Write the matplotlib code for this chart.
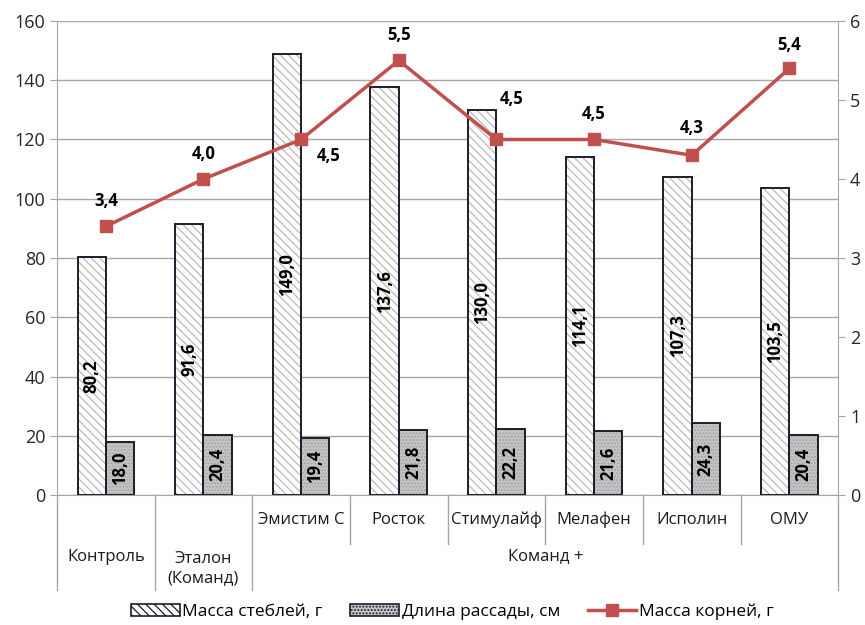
import numpy as np
import matplotlib
matplotlib.use("Agg")
import matplotlib.pyplot as plt
from matplotlib.patches import Patch
from matplotlib.lines import Line2D
from matplotlib.transforms import blended_transform_factory

plt.rcParams['font.family'] = ['Open Sans', 'DejaVu Sans']
plt.rcParams['hatch.linewidth'] = 0.9

categories = ['Контроль', 'Эталон\n(Команд)', 'Эмистим С', 'Росток',
              'Стимулайф', 'Мелафен', 'Исполин', 'ОМУ']
group_label = 'Команд +'
stems = [80.2, 91.6, 149.0, 137.6, 130.0, 114.1, 107.3, 103.5]
seedlings = [18.0, 20.4, 19.4, 21.8, 22.2, 21.6, 24.3, 20.4]
roots = [3.4, 4.0, 4.5, 5.5, 4.5, 4.5, 4.3, 5.4]

series_names = ['Масса стеблей, г', 'Длина рассады, см', 'Масса корней, г']

def fmt(v):
    return f"{v:.1f}".replace('.', ',')

fig = plt.figure(figsize=(8.65, 6.25), dpi=100)
ax = fig.add_axes([0.0659, 0.208, 0.9031, 0.7584])
ax2 = ax.twinx()

x = np.arange(len(categories))
w = 0.29
grid_c = '#a6a6a6'
edge_c = '#1c1c2c'

# stems: hatch in gray, then dark outline on top
ax.bar(x - w / 2, stems, w, color='white', edgecolor='#bababa',
       hatch='\\\\\\\\', linewidth=0, zorder=2)
ax.bar(x - w / 2, stems, w, color='none', edgecolor=edge_c, linewidth=1.4, zorder=3)
ax.bar(x + w / 2, seedlings, w, color='#c4c4c4', edgecolor='#a4a4a4',
       hatch='.....', linewidth=0, zorder=2)
ax.bar(x + w / 2, seedlings, w, color='none', edgecolor=edge_c, linewidth=1.4, zorder=3)

for i in range(len(x)):
    ax.text(x[i] - w / 2, stems[i] / 2, fmt(stems[i]), rotation=90, ha='center',
            va='center', fontsize=12, fontweight='bold', zorder=4)
    ax.text(x[i] + w / 2, seedlings[i] / 2, fmt(seedlings[i]), rotation=90, ha='center',
            va='center', fontsize=12, fontweight='bold', zorder=4)

ax.set_xlim(-0.5, len(categories) - 0.5)
ax.set_ylim(0, 160)
ax.set_yticks(np.arange(0, 161, 20))
ax.yaxis.grid(True, color=grid_c, linewidth=1)
ax.set_axisbelow(True)
ax.set_xticks([])
for s in ['top', 'right']:
    ax.spines[s].set_visible(False)
for s in ['left', 'bottom']:
    ax.spines[s].set_color(grid_c)
ax.tick_params(axis='y', colors=grid_c, labelcolor='#262626', labelsize=13,
               length=5, direction='out')

ax2.plot(x, roots, color='#c0504d', linewidth=2.5, marker='s', markersize=9, zorder=5)
ax2.set_ylim(0, 6)
ax2.set_yticks(range(7))
for s in ['top', 'left', 'bottom']:
    ax2.spines[s].set_visible(False)
ax2.spines['right'].set_color(grid_c)
ax2.tick_params(axis='y', colors=grid_c, labelcolor='#262626', labelsize=13,
                length=5, direction='out')

offsets = [(0, 18), (0, 18), (20, -12), (0, 18), (11, 29), (0, 18), (0, 20), (0, 17)]
for i in range(len(x)):
    ax2.annotate(fmt(roots[i]), (x[i], roots[i]), xytext=offsets[i],
                 textcoords='offset points', ha='center', va='center',
                 fontsize=12, fontweight='bold', zorder=6)

# multi-level category axis
tr = blended_transform_factory(ax.transData, ax.transAxes)
for b in [-0.5, 0.5, 1.5, 7.5]:
    ax.plot([b, b], [0, -0.2], transform=tr, color=grid_c, lw=1, clip_on=False)
for b in np.arange(2.5, 7.5, 1):
    ax.plot([b, b], [0, -0.103], transform=tr, color=grid_c, lw=1, clip_on=False)
for i in range(2, len(categories)):
    ax.text(i, -0.053, categories[i], transform=tr, ha='center', va='center',
            fontsize=12, color='#1a1a1a')
ax.text(0, -0.13, categories[0], transform=tr, ha='center', va='center',
        fontsize=12, color='#1a1a1a')
ax.text(1, -0.155, categories[1], transform=tr, ha='center', va='center',
        fontsize=12, color='#1a1a1a', linespacing=1.3)
ax.text(4.5, -0.13, group_label, transform=tr, ha='center', va='center',
        fontsize=12, color='#1a1a1a')

handles = [
    Patch(facecolor='white', edgecolor=edge_c, hatch='\\\\\\\\', linewidth=1.2),
    Patch(facecolor='#c4c4c4', edgecolor=edge_c, hatch='.....', linewidth=1.2),
    Line2D([], [], color='#c0504d', linewidth=2.5, marker='s', markersize=8),
]
fig.legend(handles, series_names, loc='lower center', bbox_to_anchor=(0.523, -0.017),
           ncol=3, frameon=False, fontsize=12.5, handlelength=2.8, handletextpad=0.15,
           columnspacing=1.6)

fig.savefig('out.png', dpi=100)
